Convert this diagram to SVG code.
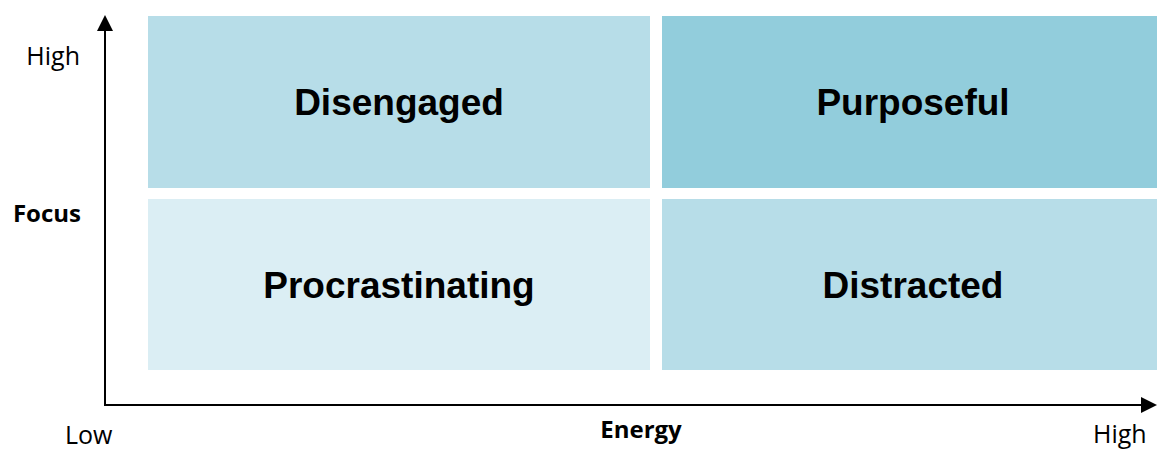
<svg xmlns="http://www.w3.org/2000/svg" width="1157" height="450" viewBox="0 0 1157 450">
  <style>
    .cell-label { font-family: "Liberation Sans", Arial, sans-serif; font-weight: bold; font-size: 37px; fill: #000; text-anchor: middle; }
    .axis-tick { font-family: "Open Sans", "Noto Sans", sans-serif; font-size: 25px; fill: #000; }
    .axis-title { font-family: "Open Sans", "Noto Sans", sans-serif; font-weight: bold; font-size: 24px; fill: #000; }
    .axis { stroke: #000; stroke-width: 2; fill: none; }
  </style>
  <defs>
    <marker id="arrow" markerUnits="userSpaceOnUse" markerWidth="16" markerHeight="16" refX="0" refY="8" orient="auto">
      <path d="M0,0 L16,8 L0,16 z" fill="#000"/>
    </marker>
  </defs>

  <rect width="1157" height="450" fill="#fff"/>

  <!-- quadrants -->
  <g id="disengaged">
    <rect x="148" y="16" width="502" height="172" fill="#B7DDE8"/>
    <text class="cell-label" x="399" y="115">Disengaged</text>
  </g>
  <g id="purposeful">
    <rect x="662" y="16" width="502" height="172" fill="#92CDDC"/>
    <text class="cell-label" x="913" y="115">Purposeful</text>
  </g>
  <g id="procrastinating">
    <rect x="148" y="199" width="502" height="171" fill="#DBEEF4"/>
    <text class="cell-label" x="399" y="298">Procrastinating</text>
  </g>
  <g id="distracted">
    <rect x="662" y="199" width="502" height="171" fill="#B7DDE8"/>
    <text class="cell-label" x="913" y="298">Distracted</text>
  </g>

  <!-- axes -->
  <g id="axes">
    <path class="axis" d="M105,405 L105,31" marker-end="url(#arrow)"/>
    <path class="axis" d="M104,405 L1141,405" marker-end="url(#arrow)"/>
  </g>

  <g id="axis-labels">
    <text class="axis-tick" x="80" y="65" text-anchor="end">High</text>
    <text class="axis-title" x="81" y="222" text-anchor="end">Focus</text>
    <text class="axis-tick" x="65" y="444">Low</text>
    <text class="axis-title" x="641" y="438" text-anchor="middle">Energy</text>
    <text class="axis-tick" x="1093" y="443">High</text>
  </g>
</svg>
